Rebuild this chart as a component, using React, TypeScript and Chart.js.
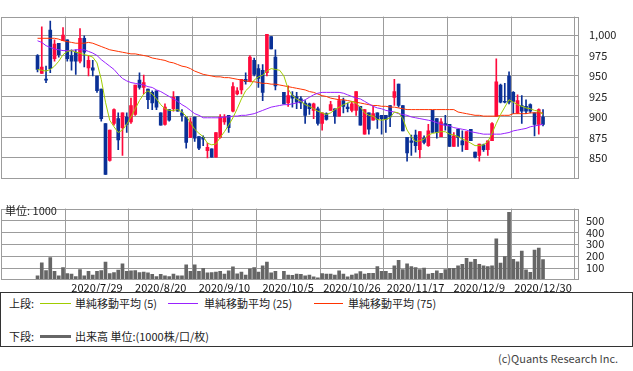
import React, { useEffect, useRef } from 'react';
import { Chart, registerables } from 'chart.js';
Chart.register(...registerables);

const dates = [
  '2020/7/7','2020/7/8','2020/7/9','2020/7/10','2020/7/13','2020/7/14','2020/7/15','2020/7/16','2020/7/17','2020/7/20',
  '2020/7/21','2020/7/22','2020/7/27','2020/7/28','2020/7/29','2020/7/30','2020/7/31','2020/8/3','2020/8/4','2020/8/5',
  '2020/8/6','2020/8/7','2020/8/11','2020/8/12','2020/8/13','2020/8/14','2020/8/17','2020/8/18','2020/8/19','2020/8/20',
  '2020/8/21','2020/8/24','2020/8/25','2020/8/26','2020/8/27','2020/8/28','2020/8/31','2020/9/1','2020/9/2','2020/9/3',
  '2020/9/4','2020/9/7','2020/9/8','2020/9/9','2020/9/10','2020/9/11','2020/9/14','2020/9/15','2020/9/16','2020/9/17',
  '2020/9/18','2020/9/23','2020/9/24','2020/9/25','2020/9/28','2020/9/29','2020/9/30','2020/10/1','2020/10/2','2020/10/5',
  '2020/10/6','2020/10/7','2020/10/8','2020/10/9','2020/10/12','2020/10/13','2020/10/14','2020/10/15','2020/10/16','2020/10/19',
  '2020/10/20','2020/10/21','2020/10/22','2020/10/23','2020/10/26','2020/10/27','2020/10/28','2020/10/29','2020/10/30','2020/11/2',
  '2020/11/4','2020/11/5','2020/11/6','2020/11/9','2020/11/10','2020/11/11','2020/11/12','2020/11/13','2020/11/16','2020/11/17',
  '2020/11/18','2020/11/19','2020/11/20','2020/11/24','2020/11/25','2020/11/26','2020/11/27','2020/11/30','2020/12/1','2020/12/2',
  '2020/12/3','2020/12/4','2020/12/7','2020/12/8','2020/12/9','2020/12/10','2020/12/11','2020/12/14','2020/12/15','2020/12/16',
  '2020/12/17','2020/12/18','2020/12/21','2020/12/22','2020/12/23','2020/12/24','2020/12/25','2020/12/28','2020/12/29','2020/12/30',
];

const open = [
  975,953,946,1006,971,990,993,994,975,979,
  968,996,960,960,950,934,892,847,892,898,
  887,900,894,903,945,936,934,930,932,905,
  891,909,910,925,905,900,875,900,876,875,
  859,861,851,875,894,902,907,928,933,946,
  944,969,959,957,954,998,973,null,930,917,
  926,925,922,917,916,908,910,892,904,908,
  910,901,920,912,908,908,913,879,905,896,
  905,902,902,914,924,940,914,875,871,878,
  860,874,865,908,898,876,892,891,864,885,
  871,860,885,857,853,866,860,871,901,939,
  919,950,930,905,914,913,915,905,891,900,
];
const high = [
  976,1010,962,1017,994,990,1009,994,982,982,
  1008,999,975,969,950,934,892,884,910,905,
  905,905,923,939,954,951,934,932,932,905,
  916,909,931,925,909,900,899,900,876,877,
  868,861,881,903,903,902,942,936,946,954,
  975,972,964,964,1001,998,982,null,930,938,
  931,930,925,920,917,917,912,905,905,919,
  910,926,923,917,919,931,913,909,905,913,
  905,902,902,914,946,940,914,875,878,884,
  882,877,891,908,898,898,902,891,881,885,
  883,882,885,857,867,867,871,893,971,940,
  941,955,931,927,926,921,916,905,910,909,
];
const low = [
  955,953,942,954,968,973,993,968,957,952,
  966,961,950,950,930,895,830,846,890,860,
  853,881,892,902,934,928,910,909,909,890,
  890,895,907,907,895,862,875,870,860,865,
  850,851,851,874,891,881,906,927,928,940,
  943,950,936,920,950,983,933,null,916,913,
  912,910,910,892,903,898,890,884,896,908,
  892,901,905,906,906,902,890,879,879,896,
  886,879,881,888,914,912,883,846,853,857,
  850,867,864,881,874,876,884,864,864,864,
  858,860,871,850,846,858,853,871,901,917,
  917,916,904,904,892,904,905,877,879,889,
];
const close = [
  958,961,945,959,989,976,1000,971,968,968,
  996,979,969,957,932,898,830,884,909,872,
  905,891,914,939,936,942,921,917,912,890,
  912,896,924,907,902,869,894,874,862,873,
  863,851,881,900,900,887,937,932,946,943,
  973,952,947,930,1001,983,938,null,916,926,
  923,918,917,902,910,916,892,905,897,915,
  901,920,913,910,916,931,890,909,885,904,
  897,898,897,900,931,914,883,856,869,865,
  882,869,883,881,881,894,890,864,877,875,
  866,882,871,851,867,860,871,892,943,918,
  918,918,919,920,907,907,907,891,909,891,
];
const volume = [
  34,145,80,189,73,34,104,54,49,28,
  88,34,73,41,73,80,150,54,62,83,
  135,73,78,80,62,67,60,47,28,47,
  34,28,49,34,34,127,73,127,73,98,
  60,62,67,73,49,78,111,52,67,41,
  93,104,67,119,150,60,73,null,73,41,
  39,49,47,34,42,26,18,55,49,49,
  42,78,49,26,42,52,70,49,57,57,
  112,73,73,57,119,166,88,135,112,104,
  88,101,49,57,78,57,88,99,99,119,
  132,182,151,174,132,119,112,119,345,143,
  197,569,174,153,244,86,65,252,268,171,
];
const ma5 = [
  958,957,956,958,962,968,976,980,981,979,
  978,976,975,973,966,946,918,896,888,881,
  884,891,900,910,920,928,932,928,922,915,
  910,908,908,909,906,901,893,885,880,876,
  868,866,867,875,882,890,899,910,922,932,
  937,945,949,951,956,959,958,957,950,934,
  926,922,919,915,913,910,907,905,903,905,
  909,912,915,917,919,917,912,905,902,901,
  897,896,897,899,906,905,898,884,876,870,
  871,873,878,880,881,882,882,879,878,876,
  873,871,868,865,865,866,870,880,892,903,
  912,921,918,915,913,911,910,908,907,903,
];
const ma25 = [
  993,991,987,985,983,982,981,981,981,982,
  982,982,980,978,975,970,966,962,958,952,
  947,944,942,941,940,939,937,936,933,931,
  928,925,922,919,915,912,908,904,902,899,
  899,899,899,899,900,900,901,901,902,902,
  903,904,906,908,910,912,913,914,915,915,
  916,917,919,921,924,927,929,930,930,930,
  930,930,929,927,925,923,922,919,916,913,
  911,910,908,907,906,904,903,902,900,899,
  898,897,896,895,893,891,890,889,887,886,
  885,884,882,881,880,879,879,879,879,879,
  880,881,883,884,885,886,888,889,890,891,
];
const ma75 = [
  996,996,996,996,996,995,993,992,991,990,
  990,990,991,990,988,986,984,982,981,980,
  979,978,977,977,976,975,974,972,971,970,
  969,967,966,964,962,961,959,956,954,952,
  951,950,949,949,948,948,947,946,945,944,
  943,943,942,941,941,940,940,939,938,937,
  936,935,934,933,931,930,928,926,925,923,
  922,921,921,920,919,918,917,916,915,914,
  914,913,913,912,912,911,910,909,909,909,
  909,909,909,909,909,909,909,909,909,906,
  905,904,903,902,902,901,901,901,901,902,
  902,902,904,904,904,904,905,905,905,905,
];
const xTickLabels = ['2020/7/29','2020/8/20','2020/9/10','2020/10/5','2020/10/26','2020/11/17','2020/12/9','2020/12/30'];
const priceTicks = [850, 875, 900, 925, 950, 975, 1000];
const volumeTicks = [100, 200, 300, 400, 500];

const FONT = '"Noto Sans CJK JP", "Noto Sans", sans-serif';
const UP = '#ff0a3c';
const DOWN = '#0a3096';
const GRID = '#9c9c9c';
const C5 = '#a0cc00';
const C25 = '#9922ff';
const C75 = '#ff3300';
const X_MIN = -8.6;
const X_MAX = 127.47;

const framePlugin = {
  id: 'frame',
  afterDraw(chart: any) {
    const { ctx, chartArea: a } = chart;
    ctx.save();
    ctx.strokeStyle = GRID;
    ctx.lineWidth = 1;
    ctx.strokeRect(Math.round(a.left) + 0.5, Math.round(a.top) + 0.5, Math.round(a.right - a.left) - 1, Math.round(a.bottom - a.top) - 1);
    ctx.restore();
  },
};

export default function App() {
  const priceRef = useRef<HTMLCanvasElement>(null);
  const volRef = useRef<HTMLCanvasElement>(null);

  useEffect(() => {
    const idx = dates.map((_, i) => i).filter((i) => open[i] != null);
    const colors = idx.map((i) => ((close[i] as number) >= (open[i] as number) ? UP : DOWN));
    const tickIdx = xTickLabels.map((d) => dates.indexOf(d));
    const line = (arr: number[], color: string, order: number) => ({
      type: 'line' as const,
      data: arr.map((v, i) => ({ x: i, y: v })),
      borderColor: color,
      borderWidth: 1,
      pointRadius: 0,
      tension: 0,
      order,
    });

    const c1 = new Chart(priceRef.current!, {
      type: 'bar',
      data: {
        datasets: [
          line(ma5, C5, 0) as any,
          line(ma25, C25, 1) as any,
          line(ma75, C75, 2) as any,
          {
            type: 'bar',
            data: idx.map((i) => ({ x: i, y: [Math.min(open[i] as number, close[i] as number), Math.max(open[i] as number, close[i] as number)] })),
            backgroundColor: colors,
            barThickness: 3,
            minBarLength: 1,
            grouped: false,
            order: 3,
          } as any,
          {
            type: 'bar',
            data: idx.map((i) => ({ x: i, y: [low[i], high[i]] })),
            backgroundColor: colors,
            barThickness: 1,
            minBarLength: 1,
            grouped: false,
            order: 4,
          } as any,
        ],
      },
      options: {
        animation: false,
        responsive: false,
        maintainAspectRatio: false,
        layout: { padding: { left: 1, top: 1, right: 0, bottom: 5 } },
        plugins: { legend: { display: false }, tooltip: { enabled: false } },
        scales: {
          x: {
            type: 'linear',
            min: X_MIN,
            max: X_MAX,
            offset: false,
            grid: { color: GRID, drawTicks: false },
            border: { display: false },
            ticks: { display: false },
            afterBuildTicks: (s: any) => { s.ticks = tickIdx.map((v) => ({ value: v })); },
            afterFit: (s: any) => { s.height = 0; },
          },
          y: {
            position: 'right',
            min: 825,
            max: 1022.5,
            grid: { color: GRID, drawTicks: false },
            border: { display: false },
            ticks: {
              padding: 10,
              color: '#222',
              font: { family: FONT, size: 11 },
              callback: (v: any) => Number(v).toLocaleString('en-US'),
            },
            afterBuildTicks: (s: any) => { s.ticks = priceTicks.map((v) => ({ value: v })); },
            afterFit: (s: any) => { s.width = 54; },
          },
        },
      } as any,
      plugins: [framePlugin],
    });

    const vidx = dates.map((_, i) => i).filter((i) => volume[i] != null);
    const c2 = new Chart(volRef.current!, {
      type: 'bar',
      data: {
        datasets: [
          {
            data: vidx.map((i) => ({ x: i, y: volume[i] })),
            backgroundColor: '#666666',
            barThickness: 3,
            grouped: false,
          } as any,
        ],
      },
      options: {
        animation: false,
        responsive: false,
        maintainAspectRatio: false,
        layout: { padding: { left: 1, top: 7, right: 0, bottom: 8 } },
        plugins: { legend: { display: false }, tooltip: { enabled: false } },
        scales: {
          x: {
            type: 'linear',
            min: X_MIN,
            max: X_MAX,
            offset: false,
            grid: { color: GRID, drawTicks: false },
            border: { display: false },
            ticks: {
              autoSkip: false,
              maxRotation: 0,
              padding: 1,
              color: '#111',
              font: { family: FONT, size: 11 },
              callback: (v: any) => dates[Number(v)],
            },
            afterBuildTicks: (s: any) => { s.ticks = tickIdx.map((v) => ({ value: v })); },
            afterFit: (s: any) => { s.height = 12; },
          },
          y: {
            position: 'right',
            min: 0,
            max: 600,
            grid: { color: GRID, drawTicks: false },
            border: { display: false },
            ticks: { padding: 7, color: '#222', font: { family: FONT, size: 11 } },
            afterBuildTicks: (s: any) => { s.ticks = volumeTicks.map((v) => ({ value: v })); },
            afterFit: (s: any) => { s.width = 54; },
          },
        },
      } as any,
      plugins: [framePlugin],
    });

    return () => { c1.destroy(); c2.destroy(); };
  }, []);

  const txt = (left: number, top: number, s: string, extra: any = {}) => (
    <div style={{ position: 'absolute', left, top, fontSize: 11, lineHeight: '14px', color: '#222', whiteSpace: 'nowrap', ...extra }}>{s}</div>
  );
  const seg = (left: number, top: number, width: number, height: number, bg: string) => (
    <div style={{ position: 'absolute', left, top, width, height, background: bg }} />
  );

  return (
    <div style={{ position: 'fixed', left: 0, top: 0, width: 633, height: 371, background: '#fff', overflow: 'hidden', fontFamily: FONT }}>
      <canvas ref={priceRef} width={633} height={195} style={{ position: 'absolute', left: 0, top: 0 }} />
      <canvas ref={volRef} width={633} height={105} style={{ position: 'absolute', left: 0, top: 195 }} />
      {txt(5, 203, '単位: 1000')}
      <div style={{ position: 'absolute', left: 0, top: 292, width: 633, height: 55, border: '1px solid #333', boxSizing: 'border-box', background: '#fff' }} />
      {txt(9, 296, '上段:')}
      {seg(40, 303, 31, 1, C5)}
      {txt(75, 296, '単純移動平均 (5)')}
      {seg(168, 303, 30, 1, C25)}
      {txt(204, 296, '単純移動平均 (25)')}
      {seg(314, 303, 29, 1, C75)}
      {txt(348, 296, '単純移動平均 (75)')}
      {txt(9, 329, '下段:')}
      {seg(40, 335, 31, 3, '#666')}
      {txt(75, 329, '出来高 単位:(1000株/口/枚)')}
      {txt(498, 351, '(c)Quants Research Inc.', { color: '#444' })}
    </div>
  );
}
